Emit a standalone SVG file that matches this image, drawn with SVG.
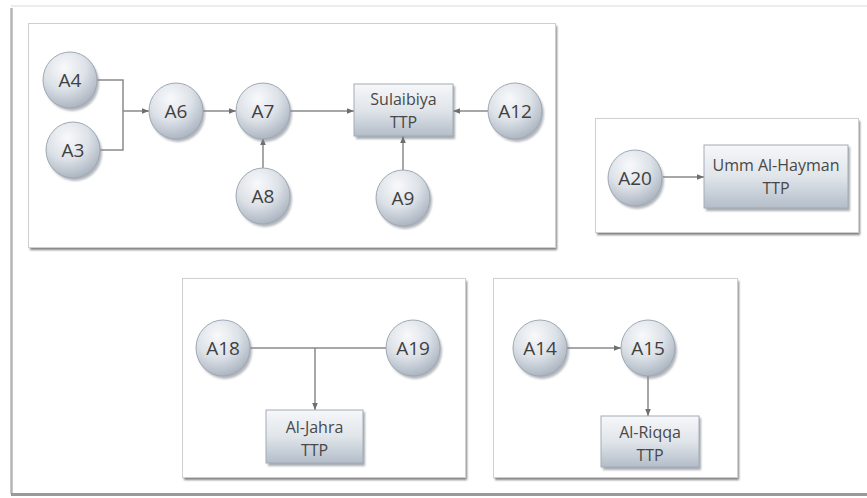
<svg xmlns="http://www.w3.org/2000/svg" width="867" height="498" viewBox="0 0 867 498">
  <defs>
    <radialGradient id="ballFill" cx="0.4" cy="0.28" r="0.78">
      <stop offset="0" stop-color="#f8f9fb"/>
      <stop offset="0.5" stop-color="#dde2e8"/>
      <stop offset="1" stop-color="#a4aebb"/>
    </radialGradient>
    <linearGradient id="boxFill" x1="0" y1="0" x2="0" y2="1">
      <stop offset="0" stop-color="#f6f7f9"/>
      <stop offset="0.5" stop-color="#e0e5ea"/>
      <stop offset="1" stop-color="#b3bdc9"/>
    </linearGradient>
    <filter id="soft" x="-20%" y="-20%" width="140%" height="140%">
      <feGaussianBlur stdDeviation="1.2"/>
    </filter>
    <marker id="tip" viewBox="0 0 10 10" refX="10" refY="5" markerWidth="7" markerHeight="7" markerUnits="userSpaceOnUse" orient="auto">
      <path d="M0,1 L10,5 L0,9 Z" fill="#6e6e6e"/>
    </marker>
  </defs>
  <style>
    .frame { fill: #ffffff; stroke: #cfcfcf; stroke-width: 1; }
    .frameShadow { fill: #808080; filter: url(#soft); }
    .ball { fill: url(#ballFill); stroke: #9fa8b3; stroke-width: 1; }
    .ballShadow { fill: #80868e; opacity: 0.6; filter: url(#soft); }
    .box { fill: url(#boxFill); stroke: #a3acb6; stroke-width: 1; }
    .boxShadow { fill: #7a8088; opacity: 0.65; filter: url(#soft); }
    .lbl { font-family: "Open Sans", "DejaVu Sans", sans-serif; font-size: 19px; fill: #404040; text-anchor: middle; dominant-baseline: central; }
    .blbl { font-family: "Open Sans", "DejaVu Sans", sans-serif; font-size: 16px; fill: #484848; text-anchor: middle; dominant-baseline: central; }
    .wire { fill: none; stroke: #8a8a8a; stroke-width: 1.5; }
    .arrow { marker-end: url(#tip); }
  </style>

  <!-- page background and outer sheet -->
  <rect x="0" y="0" width="867" height="498" fill="#ffffff"/>
  <line x1="11" y1="6" x2="867" y2="6" stroke="#ececec" stroke-width="2"/>
  <line x1="11.5" y1="8" x2="11.5" y2="494" stroke="#b4b4b4" stroke-width="2.5"/>
  <line x1="11" y1="494.5" x2="867" y2="494.5" stroke="#9a9a9a" stroke-width="3"/>

  <!-- group frames -->
  <g id="frame-sulaibiya">
    <rect class="frameShadow" x="30" y="26" width="527" height="224"/>
    <rect class="frame" x="28.5" y="23.5" width="527" height="224"/>
  </g>
  <g id="frame-umm">
    <rect class="frameShadow" x="597" y="121" width="263" height="114"/>
    <rect class="frame" x="595.5" y="118.5" width="263" height="114"/>
  </g>
  <g id="frame-jahra">
    <rect class="frameShadow" x="184" y="281" width="283" height="199"/>
    <rect class="frame" x="182.5" y="278.5" width="283" height="199"/>
  </g>
  <g id="frame-riqqa">
    <rect class="frameShadow" x="495" y="281" width="244" height="199"/>
    <rect class="frame" x="493.5" y="278.5" width="244" height="199"/>
  </g>

  <!-- connectors -->
  <g id="connectors">
    <polyline class="wire" points="97,80 123,80 123,150 100,150"/>
    <line class="wire arrow" x1="123" y1="111" x2="149" y2="111"/>
    <line class="wire arrow" x1="203" y1="111" x2="236" y2="111"/>
    <line class="wire arrow" x1="290" y1="111" x2="354" y2="111"/>
    <line class="wire arrow" x1="263" y1="168" x2="263" y2="138"/>
    <line class="wire arrow" x1="488" y1="111" x2="453" y2="111"/>
    <line class="wire arrow" x1="403" y1="171" x2="403" y2="136"/>
    <line class="wire arrow" x1="663" y1="177" x2="704" y2="177"/>
    <line class="wire" x1="250" y1="348" x2="386" y2="348"/>
    <line class="wire arrow" x1="315" y1="348" x2="315" y2="410"/>
    <line class="wire arrow" x1="567" y1="348" x2="621" y2="348"/>
    <line class="wire arrow" x1="648" y1="375" x2="648" y2="416"/>
  </g>

  <!-- nodes -->
  <g id="A4">
    <ellipse class="ballShadow" cx="72" cy="83" rx="27" ry="28"/>
    <ellipse class="ball" cx="70" cy="80" rx="27" ry="28"/>
    <text class="lbl" x="70" y="80">A4</text>
  </g>
  <g id="A3">
    <ellipse class="ballShadow" cx="75" cy="153" rx="27" ry="28"/>
    <ellipse class="ball" cx="73" cy="150" rx="27" ry="28"/>
    <text class="lbl" x="73" y="150">A3</text>
  </g>
  <g id="A6">
    <ellipse class="ballShadow" cx="178" cy="114" rx="27" ry="28"/>
    <ellipse class="ball" cx="176" cy="111" rx="27" ry="28"/>
    <text class="lbl" x="176" y="111">A6</text>
  </g>
  <g id="A7">
    <ellipse class="ballShadow" cx="265" cy="114" rx="27" ry="28"/>
    <ellipse class="ball" cx="263" cy="111" rx="27" ry="28"/>
    <text class="lbl" x="263" y="111">A7</text>
  </g>
  <g id="A8">
    <ellipse class="ballShadow" cx="265" cy="199" rx="27" ry="28"/>
    <ellipse class="ball" cx="263" cy="196" rx="27" ry="28"/>
    <text class="lbl" x="263" y="196">A8</text>
  </g>
  <g id="Sulaibiya">
    <rect class="boxShadow" x="356" y="86" width="99" height="53"/>
    <rect class="box" x="354" y="84" width="99" height="52"/>
    <text class="blbl" x="403.5" y="99">Sulaibiya</text>
    <text class="blbl" x="403.5" y="122">TTP</text>
  </g>
  <g id="A12">
    <ellipse class="ballShadow" cx="517" cy="114" rx="27" ry="28"/>
    <ellipse class="ball" cx="515" cy="111" rx="27" ry="28"/>
    <text class="lbl" x="515" y="111">A12</text>
  </g>
  <g id="A9">
    <ellipse class="ballShadow" cx="405" cy="201" rx="27" ry="28"/>
    <ellipse class="ball" cx="403" cy="198" rx="27" ry="28"/>
    <text class="lbl" x="403" y="198">A9</text>
  </g>
  <g id="A20">
    <ellipse class="ballShadow" cx="637" cy="181" rx="27" ry="28"/>
    <ellipse class="ball" cx="635" cy="178" rx="27" ry="28"/>
    <text class="lbl" x="635" y="178">A20</text>
  </g>
  <g id="UmmAlHayman">
    <rect class="boxShadow" x="706" y="147" width="144" height="64"/>
    <rect class="box" x="704" y="145" width="144" height="63"/>
    <text class="blbl" x="776" y="165">Umm Al-Hayman</text>
    <text class="blbl" x="776" y="188">TTP</text>
  </g>
  <g id="A18">
    <ellipse class="ballShadow" cx="225" cy="351" rx="27" ry="28"/>
    <ellipse class="ball" cx="223" cy="348" rx="27" ry="28"/>
    <text class="lbl" x="223" y="348">A18</text>
  </g>
  <g id="A19">
    <ellipse class="ballShadow" cx="415" cy="351" rx="27" ry="28"/>
    <ellipse class="ball" cx="413" cy="348" rx="27" ry="28"/>
    <text class="lbl" x="413" y="348">A19</text>
  </g>
  <g id="AlJahra">
    <rect class="boxShadow" x="268" y="412" width="97" height="54"/>
    <rect class="box" x="266" y="410" width="97" height="53"/>
    <text class="blbl" x="314.5" y="427">Al-Jahra</text>
    <text class="blbl" x="314.5" y="450">TTP</text>
  </g>
  <g id="A14">
    <ellipse class="ballShadow" cx="542" cy="351" rx="27" ry="28"/>
    <ellipse class="ball" cx="540" cy="348" rx="27" ry="28"/>
    <text class="lbl" x="540" y="348">A14</text>
  </g>
  <g id="A15">
    <ellipse class="ballShadow" cx="650" cy="351" rx="27" ry="28"/>
    <ellipse class="ball" cx="648" cy="348" rx="27" ry="28"/>
    <text class="lbl" x="648" y="348">A15</text>
  </g>
  <g id="AlRiqqa">
    <rect class="boxShadow" x="603" y="418" width="98" height="52"/>
    <rect class="box" x="601" y="416" width="98" height="51"/>
    <text class="blbl" x="650" y="432">Al-Riqqa</text>
    <text class="blbl" x="650" y="455">TTP</text>
  </g>
</svg>
